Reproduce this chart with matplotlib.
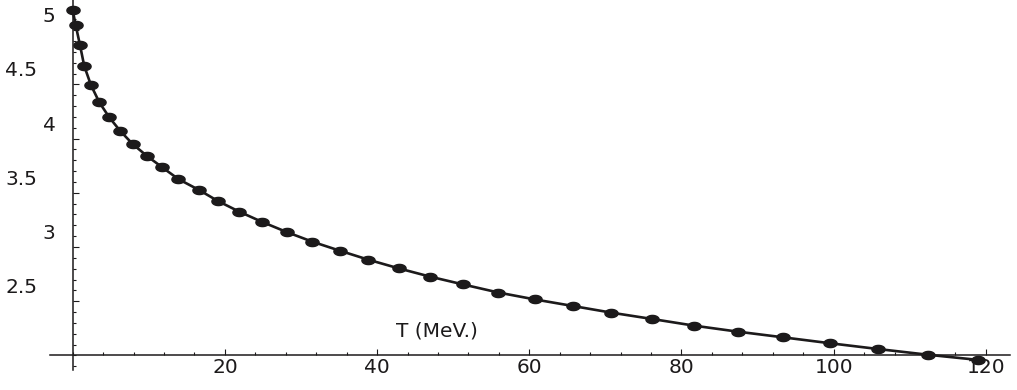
import matplotlib
matplotlib.use("Agg")
import matplotlib.pyplot as plt
from matplotlib.ticker import MultipleLocator
from matplotlib.transforms import offset_copy
from matplotlib.path import Path
import numpy as np

# data (T in MeV.)
T = [0.0, 0.39, 0.96, 1.52, 2.40, 3.50, 4.81, 6.22, 7.88, 9.72,
     11.77, 13.88, 16.6, 19.09, 21.89, 24.84, 28.12, 31.49, 35.09, 38.84,
     42.88, 46.99, 51.33, 55.93, 60.75, 65.70, 70.80, 76.12, 81.68, 87.38,
     93.30, 99.51, 105.78, 112.35, 119.0]
val = [5.186, 5.048, 4.863, 4.670, 4.494, 4.335, 4.196, 4.073, 3.950, 3.842,
       3.735, 3.627, 3.526, 3.424, 3.326, 3.233, 3.138, 3.049, 2.966, 2.883,
       2.802, 2.726, 2.654, 2.580, 2.516, 2.456, 2.394, 2.336, 2.274, 2.219,
       2.167, 2.112, 2.059, 2.006, 1.958]

xticks = [20, 40, 60, 80, 100, 120]
xtick_labels = ["20", "40", "60", "80", "100", "120"]
yticks = [2.5, 3, 3.5, 4, 4.5, 5]
ytick_labels = ["2.5", "3", "3.5", "4", "4.5", "5"]
x_origin, y_origin = 0, 2.0

plt.rcParams['font.family'] = ['DejaVu Sans']
ink = '#1c1a1b'

fig = plt.figure(figsize=(10.17, 3.9), dpi=100)
ax = fig.add_axes([50 / 1017, 20 / 390, 960 / 1017, 370 / 390])
ax.set_xlim(-2.98, 123.17)
ax.set_ylim(1.865, 5.279)

# flattened disks like the original
th = np.linspace(0, 2 * np.pi, 41)
ell = Path(np.column_stack([np.cos(th), 0.62 * np.sin(th)]), closed=True)

ax.plot(T, val, color=ink, lw=1.9, solid_joinstyle='round', zorder=3)
ax.plot(T, val, ls='none', marker=ell, ms=9.5, color=ink, zorder=4, clip_on=False)

# axes crossing at the origin
for s in ['top', 'right']:
    ax.spines[s].set_visible(False)
ax.spines['left'].set_position(('data', x_origin))
ax.spines['bottom'].set_position(('data', y_origin))
for s in ['left', 'bottom']:
    ax.spines[s].set_linewidth(1.1)
    ax.spines[s].set_color(ink)

ax.set_xticks(xticks, labels=xtick_labels)
ax.xaxis.set_minor_locator(MultipleLocator(4))
ax.set_yticks(yticks)
ax.yaxis.set_minor_locator(MultipleLocator(0.1))
ax.tick_params(which='both', direction='in', color=ink, width=0.8)
ax.tick_params(which='major', length=4.5)
ax.tick_params(which='minor', length=2.4)
ax.tick_params(axis='x', labelsize=14.5, pad=2, labelcolor=ink)
ax.tick_params(axis='y', labelleft=False)

# y labels sit a little above their ticks in the original
for v, lab in zip(yticks, ytick_labels):
    dx = -37 if '.' in lab else -17
    tr = offset_copy(ax.transData, fig=fig, x=dx, y=9.7, units='points')
    ax.text(x_origin, v, lab, transform=tr, ha='center', va='center',
            fontsize=14.5, color=ink)

ax.text(47.9, 2.225, 'T (MeV.)', ha='center', va='center', fontsize=14.5, color=ink)

fig.savefig('out.png', dpi=100)
